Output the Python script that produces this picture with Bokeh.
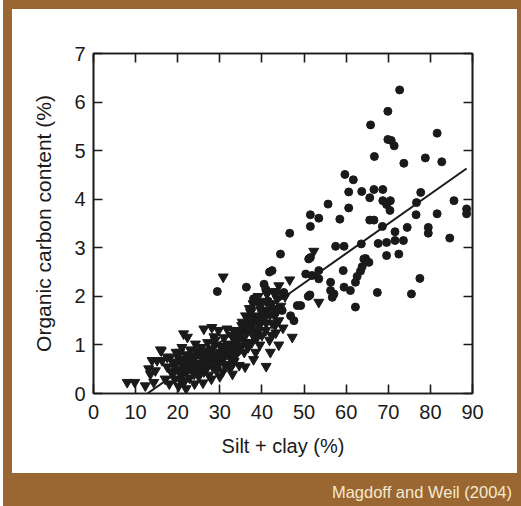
from bokeh.plotting import figure
from bokeh.layouts import column
from bokeh.models import LinearAxis, FixedTicker, Range1d, Div
from bokeh.embed import file_html
from bokeh.resources import INLINE

# ---- data ----
x_ticks = [0, 10, 20, 30, 40, 50, 60, 70, 80, 90]
y_ticks = [0, 1, 2, 3, 4, 5, 6, 7]

circle_x = [72.7, 69.9, 65.8, 81.6, 69.9, 70.7, 71.4, 66.7, 73.7, 78.8, 82.7, 59.7, 61.7, 60.6, 63.7,
            66.6, 68.7, 65.6, 68.7, 70.5, 69.6, 70.4, 55.7, 60.6, 51.5, 53.5, 51.5, 58.5, 65.6, 66.6,
            68.6, 77.7, 76.7, 76.6, 85.6, 81.6, 88.6, 88.6, 74.5, 79.5, 79.5, 84.6, 71.6, 57.5, 59.5,
            63.6, 67.6, 69.6, 71.6, 73.6, 69.6, 72.5, 64.6, 51.5, 77.5, 75.5, 64.2, 65.4, 63.8, 63.4,
            62.6, 62.2, 59.3, 51.1, 50.4, 51.9, 53.5, 53.5, 56.3, 56.3, 57.1, 56.7, 59.5, 61.0, 67.4,
            51.4, 62.2, 49.2, 46.6, 44.4, 41.8, 42.4, 29.4, 36.3, 40.5, 40.9, 43.2, 45.2, 51.0, 48.4,
            44.8, 46.8, 47.6, 38.0, 39.5, 37.5, 40.2, 41.5, 39.0]
circle_y = [6.25, 5.81, 5.53, 5.36, 5.23, 5.21, 5.10, 4.88, 4.74, 4.85, 4.77, 4.51, 4.40, 4.15, 4.16,
            4.20, 4.20, 4.03, 3.97, 3.97, 3.89, 3.77, 3.90, 3.82, 3.68, 3.61, 3.44, 3.59, 3.57, 3.57,
            3.44, 4.14, 3.93, 3.68, 3.97, 3.70, 3.80, 3.70, 3.42, 3.42, 3.30, 3.20, 3.33, 3.03, 3.03,
            3.08, 3.09, 3.11, 3.15, 3.15, 2.84, 2.87, 2.78, 2.80, 2.37, 2.05, 2.77, 2.70, 2.61, 2.52,
            2.41, 2.29, 2.53, 2.77, 2.46, 2.43, 2.53, 2.36, 2.29, 2.12, 2.05, 1.98, 2.19, 2.12, 2.08,
            2.03, 1.78, 1.81, 3.30, 2.87, 2.50, 2.53, 2.10, 2.19, 2.25, 2.15, 2.08, 2.08, 2.00, 1.81,
            1.71, 1.60, 1.50, 1.95, 1.85, 1.75, 1.65, 1.90, 1.55]

tri_x = [8.0, 9.8, 12.3, 14.3, 16.1, 13.9, 15.1, 16.3, 13.1, 14.7, 13.5, 17.5, 21.4, 22.3, 26.2,
         28.1, 29.7, 31.7, 33.3, 28.6, 15.9, 30.8, 46.6, 44.0, 44.8, 47.2, 41.0, 38.5, 52.3, 53.5,
         35.3, 36.5, 37.3,
         17.0, 17.5, 18.0, 18.2, 18.5, 19.0, 19.3, 19.6, 20.0, 20.2, 20.4, 20.8, 21.0,
         21.3, 21.6, 21.9, 22.2, 22.5, 22.8, 23.0, 23.3, 23.6, 23.9, 24.2, 24.5, 24.8, 25.0, 25.3,
         25.6, 25.9, 26.2, 26.5, 26.8, 27.1, 27.4, 27.7, 28.0, 28.3, 28.6, 28.9, 29.2, 29.5, 29.8, 30.1,
         30.4, 30.7, 31.0, 31.3, 31.6, 31.9, 32.2, 32.5, 32.8, 33.1, 33.4, 33.7, 34.0, 34.3, 34.6, 34.9,
         35.2, 35.5, 35.8, 36.1, 36.4, 36.7, 37.0, 37.3, 37.6, 37.9, 38.2, 38.5, 38.8, 39.1, 39.4, 39.7, 40.0,
         40.3, 40.6, 40.9, 41.2, 41.5, 41.8, 42.1, 42.4, 42.7, 43.0, 43.3, 43.6, 44.0, 44.5, 45.0, 45.5,
         22.0, 24.0, 26.0, 28.0, 30.0, 33.0, 36.0, 38.0, 42.0, 44.0,
         18.8, 19.8, 20.6, 21.5, 22.4, 23.2, 24.0, 24.9, 25.7, 26.6, 27.5, 28.4, 29.3, 30.2, 31.1,
         32.0, 32.9, 33.8, 34.7, 35.6, 36.5, 37.4, 38.3, 39.2, 40.1, 41.0, 41.9, 42.8, 43.7,
         19.5, 21.2, 23.5, 25.4, 27.0, 29.0, 30.9, 32.7, 34.5, 36.2, 38.0, 39.8, 41.4, 43.1,
         20.5, 22.7, 24.6, 26.9, 28.8, 31.4, 33.5, 35.0, 37.8, 39.5, 42.3]
tri_y = [0.23, 0.23, 0.16, 0.23, 0.88, 0.68, 0.68, 0.68, 0.51, 0.47, 0.40, 0.75, 1.23, 1.16, 1.33,
         1.36, 1.30, 1.33, 1.30, 1.17, 0.90, 2.40, 2.34, 2.22, 2.05, 1.16, 0.56, 0.85, 2.93, 1.88,
         1.47, 1.57, 1.67,
         0.30, 0.55, 0.20, 0.75, 0.45, 0.62, 0.30, 0.85, 0.50, 0.15, 0.70, 0.38, 0.95,
         0.58, 0.25, 0.80, 0.45, 0.65, 0.32, 0.90, 0.55, 0.72, 0.40, 1.02, 0.60, 0.82, 0.35, 0.50,
         0.95, 0.70, 0.45, 0.85, 0.60, 1.05, 0.38, 0.75, 0.92, 0.55, 0.68, 1.10, 0.48, 0.82, 0.62, 0.98,
         0.72, 0.45, 1.15, 0.88, 0.60, 1.02, 0.78, 0.52, 1.20, 0.92, 0.66, 1.08, 0.82, 1.30, 0.58, 0.98,
         1.40, 1.12, 0.85, 1.60, 1.25, 0.95, 1.75, 1.45, 1.05, 1.85, 1.30, 1.60, 1.15, 2.00, 1.40, 1.72, 1.20,
         1.90, 1.55, 1.30, 2.05, 1.70, 1.10, 1.85, 1.45, 2.10, 1.60, 1.25, 1.95, 1.50, 1.80, 1.35, 2.00,
         0.10, 0.20, 0.22, 0.30, 0.35, 0.40, 0.55, 0.70, 0.85, 1.00,
         0.40, 0.65, 0.28, 0.70, 0.55, 0.78, 0.62, 0.48, 0.78, 0.55, 0.88, 0.80, 0.68, 0.85, 0.75,
         0.95, 0.82, 1.15, 0.90, 1.30, 1.05, 1.35, 1.50, 1.30, 1.65, 1.45, 1.62, 1.75, 1.70,
         0.50, 0.42, 0.48, 0.62, 0.72, 0.60, 0.95, 0.70, 1.12, 1.40, 1.18, 1.55, 1.85, 1.40,
         0.85, 0.70, 0.88, 0.52, 1.00, 0.55, 1.00, 1.20, 1.55, 1.00, 1.20]

# regression line: y = slope * (x - x_intercept), drawn over the fitted span
fit_slope = 0.0611
fit_x_intercept = 12.8
fit_x_end = 88.6

x_label = "Silt + clay (%)"
y_label = "Organic carbon content (%)"
credit = "Magdoff and Weil (2004)"

# ---- style ----
FONT = "Liberation Sans"
BROWN = "#9a6632"
INK = "#1a1a1a"

W = 521
PH = 473          # height of the white chart panel area (figure)
CH = 33           # height of the brown credit strip
ML, MR, MT, MB = 93, 49, 53, 80

p = figure(width=W, height=PH, output_backend="svg", toolbar_location=None,
           x_range=Range1d(0, 90), y_range=Range1d(0, 7),
           min_border_left=ML, min_border_right=MR, min_border_top=MT, min_border_bottom=MB,
           x_axis_type=None, y_axis_type=None)
p.grid.visible = False
p.background_fill_color = "white"
p.border_fill_color = None
p.outline_line_color = INK
p.outline_line_width = 1.6
# white panel inside a brown frame, painted behind the transparent canvas border
p.styles = {
    "background": ("linear-gradient(white, white) 12px 9px / 505px 464px no-repeat, "
                   f"linear-gradient({BROWN}, {BROWN}) 3px 0px / 518px {PH}px no-repeat, white"),
}


def style_axis(ax, show_labels, label_size="20px"):
    ax.axis_line_color = INK
    ax.axis_line_width = 1.6
    ax.major_tick_line_color = INK
    ax.major_tick_line_width = 1.6
    ax.major_tick_in = 9
    ax.major_tick_out = 0
    ax.minor_tick_line_color = None
    ax.major_label_text_font = FONT
    ax.major_label_text_font_size = "20px"
    ax.major_label_text_color = INK
    ax.axis_label_text_font = FONT
    ax.axis_label_text_font_size = label_size
    ax.axis_label_text_font_style = "normal"
    ax.axis_label_text_color = INK
    if not show_labels:
        ax.major_label_text_font_size = "0px"


xb = LinearAxis(ticker=FixedTicker(ticks=x_ticks), axis_label=x_label)
style_axis(xb, True)
xb.major_label_standoff = 11
xb.axis_label_standoff = 13
p.add_layout(xb, "below")

yl = LinearAxis(ticker=FixedTicker(ticks=y_ticks), axis_label=y_label)
style_axis(yl, True, "21px")
yl.major_label_standoff = 8
yl.axis_label_standoff = 16
p.add_layout(yl, "left")

xt = LinearAxis(ticker=FixedTicker(ticks=x_ticks), major_label_overrides={t: "" for t in x_ticks})
style_axis(xt, False)
p.add_layout(xt, "above")

yr = LinearAxis(ticker=FixedTicker(ticks=y_ticks), major_label_overrides={t: "" for t in y_ticks})
style_axis(yr, False)
p.add_layout(yr, "right")

p.scatter(tri_x, tri_y, marker="inverted_triangle", size=10, fill_color=INK, line_color=INK)
p.scatter(circle_x, circle_y, marker="circle", size=8, fill_color=INK, line_color=INK)

lx = [fit_x_intercept, fit_x_end]
ly = [fit_slope * (v - fit_x_intercept) for v in lx]
p.line(lx, ly, line_color=INK, line_width=2)

# brown credit strip under the chart panel
credit_div = Div(text=credit, width=W, height=CH, margin=0, styles={
    "background": f"linear-gradient({BROWN}, {BROWN}) 3px 0px / 518px {CH}px no-repeat, white",
    "color": "#f6e9cf",
    "font-family": FONT,
    "font-size": "16.5px",
    "line-height": "19px",
    "text-align": "right",
    "padding-right": "9px",
    "padding-top": "10px",
    "box-sizing": "border-box",
})

layout = column(p, credit_div, spacing=0)

open("out.html", "w").write(file_html(layout, INLINE))
